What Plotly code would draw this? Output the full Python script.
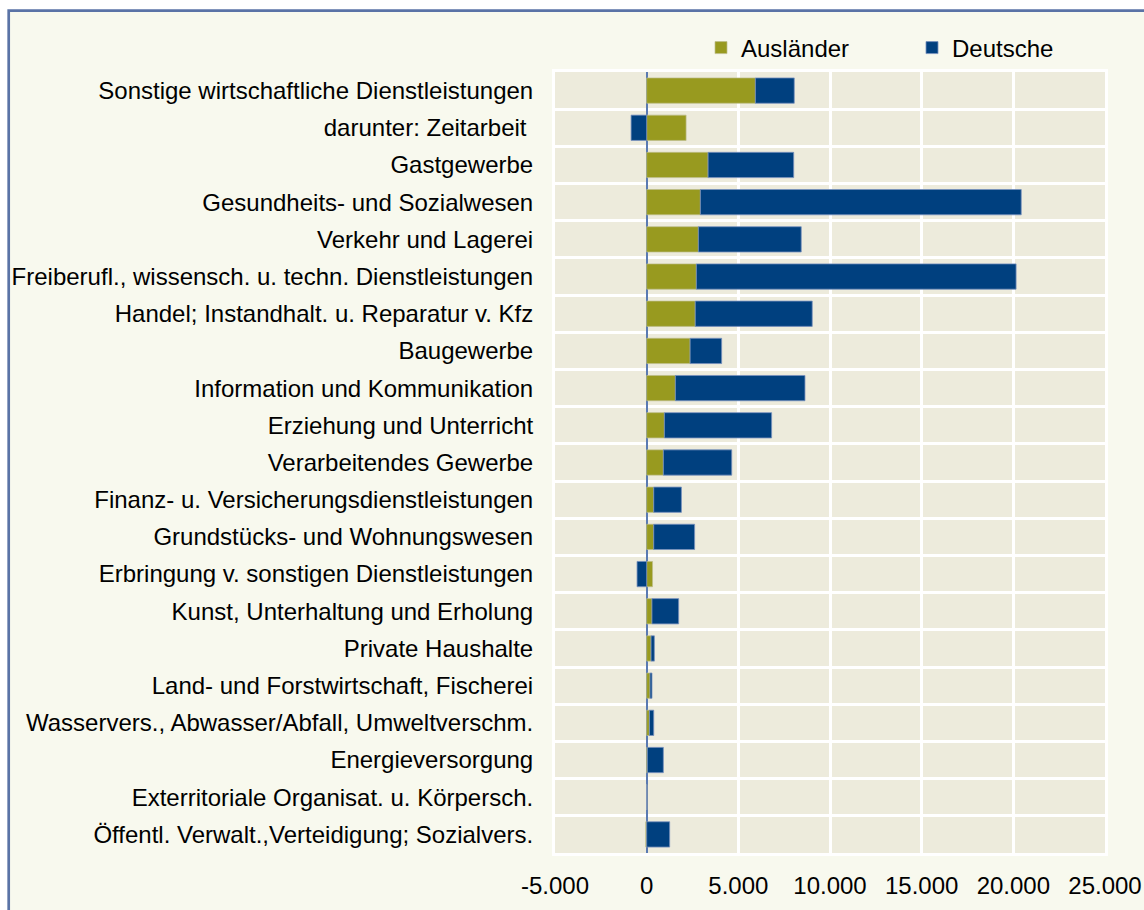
import plotly.graph_objects as go

categories = [
    "Sonstige wirtschaftliche Dienstleistungen",
    "darunter: Zeitarbeit\u00a0",
    "Gastgewerbe",
    "Gesundheits- und Sozialwesen",
    "Verkehr und Lagerei",
    "Freiberufl., wissensch. u. techn. Dienstleistungen",
    "Handel; Instandhalt. u. Reparatur v. Kfz",
    "Baugewerbe",
    "Information und Kommunikation",
    "Erziehung und Unterricht",
    "Verarbeitendes Gewerbe",
    "Finanz- u. Versicherungsdienstleistungen",
    "Grundstücks- und Wohnungswesen",
    "Erbringung v. sonstigen Dienstleistungen",
    "Kunst, Unterhaltung und Erholung",
    "Private Haushalte",
    "Land- und Forstwirtschaft, Fischerei",
    "Wasservers., Abwasser/Abfall, Umweltverschm.",
    "Energieversorgung",
    "Exterritoriale Organisat. u. Körpersch.",
    "Öffentl. Verwalt.,Verteidigung; Sozialvers.",
]

auslaender = [5930, 2150, 3350, 2930, 2820, 2710, 2650, 2370, 1565, 965, 910,
              385, 385, 320, 290, 240, 185, 150, 40, 0, -50]
deutsche = [2120, -850, 4670, 17500, 5610, 17440, 6380, 1720, 7070, 5850, 3730,
            1510, 2230, -525, 1455, 180, 105, 235, 870, 0, 1254]

x_tickvals = [-5000, 0, 5000, 10000, 15000, 20000, 25000]
x_ticktext = ["-5.000", "0", "5.000", "10.000", "15.000", "20.000", "25.000"]

FONT = "Liberation Sans, Arial, sans-serif"
GREEN = "#989A1F"
BLUE = "#00407F"
FS = 24

ypos = list(range(len(categories)))

fig = go.Figure()
fig.add_trace(go.Bar(
    y=ypos, x=auslaender, name="Ausländer", orientation="h",
    marker=dict(color=GREEN, line=dict(color="rgba(190,190,140,0.7)", width=1)),
))
fig.add_trace(go.Bar(
    y=ypos, x=deutsche, name="Deutsche", orientation="h",
    marker=dict(color=BLUE, line=dict(color="rgba(120,145,190,0.8)", width=1)),
))

W, H = 1144, 910
L, R, T, B = 555, 39, 72, 57
pw, ph = W - L - R, H - T - B

def px_to_paper_x(px):
    return (px - L) / pw

def px_to_paper_y(py):
    return (H - B - py) / ph

fig.update_layout(
    template="none",
    width=W, height=H,
    margin=dict(l=L, r=R, t=T, b=B, pad=0),
    barmode="relative",
    bargap=0.32,
    paper_bgcolor="white",
    plot_bgcolor="#EDEBDC",
    font=dict(family=FONT, size=FS, color="#000000"),
    showlegend=True,
    legend=dict(
        orientation="h",
        x=px_to_paper_x(701), xanchor="left",
        y=px_to_paper_y(48), yanchor="middle",
        bgcolor="rgba(0,0,0,0)",
        font=dict(family=FONT, size=FS, color="#000000"),
        entrywidth=166, entrywidthmode="pixels",
        traceorder="normal",
    ),
    shapes=[
        dict(type="rect", xref="paper", yref="paper", layer="below",
             x0=px_to_paper_x(8.7), x1=px_to_paper_x(1160),
             y0=px_to_paper_y(925), y1=px_to_paper_y(10.7),
             fillcolor="#F8F9EE", line=dict(color="#5A73A6", width=2.7)),
        dict(type="rect", xref="x domain", yref="y domain", layer="below",
             x0=0, x1=1, y0=0, y1=1,
             fillcolor="#EDEBDC", line=dict(width=0)),
    ],
)

fig.update_xaxes(
    range=[-5000, 25000],
    tickmode="array", tickvals=x_tickvals, ticktext=x_ticktext,
    showgrid=True, gridcolor="white", gridwidth=3,
    zeroline=True, zerolinecolor="#5A7AB2", zerolinewidth=2,
    showline=True, linecolor="white", linewidth=3, mirror=True,
    ticks="", ticklabelstandoff=9,
    tickfont=dict(family=FONT, size=FS, color="#000000"),
    automargin=False,
)
fig.update_yaxes(
    range=[len(categories) - 0.5, -0.5],
    tickmode="array", tickvals=ypos, ticktext=categories,
    showgrid=False, zeroline=False,
    minor=dict(tick0=0.5, dtick=1, showgrid=True, gridcolor="white", gridwidth=3, ticks=""),
    showline=True, linecolor="white", linewidth=3, mirror=True,
    ticks="", ticklabelstandoff=14,
    tickfont=dict(family=FONT, size=FS, color="#000000"),
    automargin=False,
)

fig.write_html(
    "out.html",
    config={"displayModeBar": False},
    post_script="document.body.style.margin='0px';document.body.style.overflow='hidden';",
)
